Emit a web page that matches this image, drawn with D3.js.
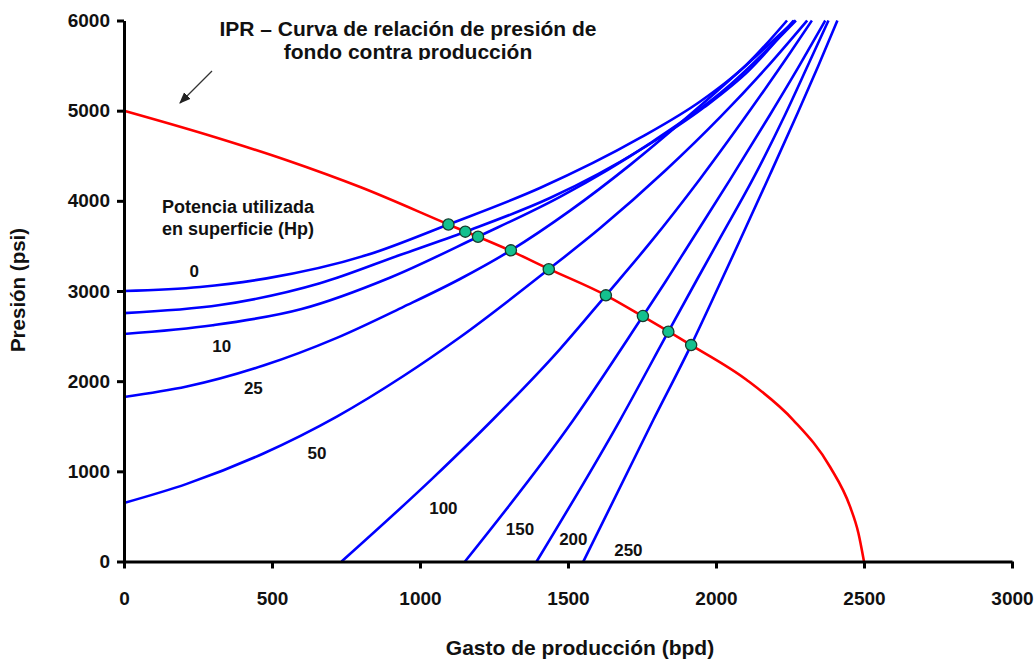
<!DOCTYPE html>
<html>
<head>
<meta charset="utf-8">
<script src="https://cdn.jsdelivr.net/npm/d3@7"></script>
<style>
  html, body { margin: 0; padding: 0; background: #fff; }
  svg text { font-family: "Liberation Sans", Arial, Helvetica, sans-serif; font-weight: bold; fill: #111; }
</style>
</head>
<body>
<svg id="chart" width="1036" height="660"></svg>
<script>
// ---------- data ----------
const xTicks = [0, 500, 1000, 1500, 2000, 2500, 3000];
const yTicks = [0, 1000, 2000, 3000, 4000, 5000, 6000];

// IPR curve (bpd, psi)
const iprCurve = [[0,5000],[275,4739],[550,4450],[800,4150],[1096,3738],[1307,3445],[1435,3245],
  [1628,2952],[1753,2718],[1916,2400],[2104,2013],[2261,1569],[2385,1051],[2453,608],[2481,316],[2500,0]];

// Curves of surface power (Hp)
const hp0   = [[0,3000],[257,3045],[482,3140],[820,3398],[1096,3738],[1405,4142],[1743,4697],[1950,5110],[2100,5500],[2240,6000]];
const hp5   = [[0,2755],[324,2844],[662,3085],[932,3399],[1153,3658],[1439,4031],[1760,4597],[1960,5037],[2110,5442],[2262,6000]];
const hp10  = [[0,2523],[300,2620],[600,2800],[900,3150],[1196,3602],[1473,4045],[1777,4638],[2047,5286],[2270,6000]];
const hp25  = [[0,1825],[212,1940],[471,2173],[719,2480],[944,2824],[1135,3133],[1307,3451],[1507,3891],[1709,4396],[1912,4954],[2097,5490],[2267,6000]];
const hp50  = [[0,649],[212,861],[471,1198],[719,1607],[944,2057],[1135,2487],[1435,3241],[1608,3695],[1828,4333],[2014,4928],[2166,5460],[2308,6000]];
const hp100 = [[735,0],[1045,930],[1248,1580],[1473,2356],[1628,2952],[1777,3533],[1946,4243],[2115,5004],[2250,5639],[2324,6000]];
const hp150 = [[1152,0],[1518,1569],[1753,2722],[1833,3122],[1912,3533],[2047,4232],[2182,4952],[2284,5513],[2369,6000]];
const hp200 = [[1394,0],[1676,1569],[1839,2549],[1935,3122],[2014,3588],[2132,4287],[2233,4952],[2311,5506],[2380,6000]];
const hp250 = [[1552,0],[1788,1569],[1916,2400],[2008,3044],[2081,3562],[2182,4289],[2277,4983],[2345,5493],[2410,6000]];
const hpCurves = [hp0, hp5, hp10, hp25, hp50, hp100, hp150, hp200, hp250];

// Operating points (intersections)
const operPoints = [[1096,3738],[1153,3658],[1196,3602],[1307,3451],[1435,3241],[1628,2952],[1753,2722],[1839,2549],[1916,2400]];

// Curve labels (text, bpd, psi)
const hpLabels = ["0","10","25","50","100","150","200","250"];
const hpLabelX = [237, 330, 437, 652, 1079, 1338, 1518, 1704];
const hpLabelY = [3225, 2393, 1921, 1207, 597, 357, 246, 128];

const titleLines = ["IPR \u2013 Curva de relación de presión de", "fondo contra producción"];
const legendLines = ["Potencia utilizada", "en superficie (Hp)"];
const xTitle = "Gasto de producción (bpd)";
const yTitle = "Presión (psi)";

// ---------- chart ----------
const svg = d3.select("#chart");
const x = d3.scaleLinear().domain([0, 3000]).range([124, 1012]);
const y = d3.scaleLinear().domain([0, 6000]).range([561.5, 20.5]);

const line = d3.line().x(d => x(d[0])).y(d => y(d[1])).curve(d3.curveMonotoneX);

// blue curves
svg.append("g").selectAll("path").data(hpCurves).join("path")
  .attr("d", line).attr("fill", "none").attr("stroke", "#0000ff").attr("stroke-width", 2.6);

// IPR
svg.append("path").datum(iprCurve).attr("d", line)
  .attr("fill", "none").attr("stroke", "#ff0000").attr("stroke-width", 2.6);

// points
svg.append("g").selectAll("circle").data(operPoints).join("circle")
  .attr("cx", d => x(d[0])).attr("cy", d => y(d[1])).attr("r", 5.6)
  .attr("fill", "#14c08e").attr("stroke", "#163a2c").attr("stroke-width", 1.3);

// axes
const xAxis = svg.append("g").attr("transform", `translate(0,${y(0)})`)
  .call(d3.axisBottom(x).tickValues(xTicks).tickSize(7).tickSizeOuter(0).tickPadding(23).tickFormat(d3.format("d")));
const yAxis = svg.append("g").attr("transform", `translate(${x(0)},0)`)
  .call(d3.axisLeft(y).tickValues(yTicks).tickSize(7).tickSizeOuter(0).tickPadding(7).tickFormat(d3.format("d")));
[xAxis, yAxis].forEach(a => {
  a.select(".domain").attr("stroke", "#000").attr("stroke-width", 3);
  a.selectAll(".tick line").attr("stroke", "#000").attr("stroke-width", 3);
  a.selectAll(".tick text").attr("font-size", 19).attr("fill", "#111")
    .style("font-family", '"Liberation Sans", Arial, sans-serif').style("font-weight", "bold");
});

// curve labels
svg.append("g").selectAll("text").data(hpLabels).join("text")
  .attr("x", (d, i) => x(hpLabelX[i])).attr("y", (d, i) => y(hpLabelY[i]))
  .attr("dy", "0.36em").attr("text-anchor", "middle").attr("font-size", 17).text(d => d);

// legend note
svg.append("g").selectAll("text").data(legendLines).join("text")
  .attr("x", 162).attr("y", (d, i) => 213 + i * 22).attr("font-size", 18).text(d => d);

// title (second line clipped at bottom as in original)
svg.append("clipPath").attr("id", "titleClip").append("rect")
  .attr("x", 0).attr("y", 0).attr("width", 1036).attr("height", 60);
svg.append("g").attr("clip-path", "url(#titleClip)").selectAll("text").data(titleLines).join("text")
  .attr("x", 408).attr("y", (d, i) => 36 + i * 23).attr("text-anchor", "middle")
  .attr("font-size", 21).text(d => d);

// arrow
svg.append("defs").append("marker").attr("id", "arr").attr("viewBox", "0 0 10 10")
  .attr("refX", 9).attr("refY", 5).attr("markerWidth", 9).attr("markerHeight", 9)
  .attr("orient", "auto").append("path").attr("d", "M0,1 L10,5 L0,9 Z").attr("fill", "#222");
svg.append("line").attr("x1", 212).attr("y1", 71).attr("x2", 180).attr("y2", 103)
  .attr("stroke", "#333").attr("stroke-width", 1.3).attr("marker-end", "url(#arr)");

// axis titles
svg.append("text").attr("x", 580).attr("y", 655).attr("text-anchor", "middle")
  .attr("font-size", 21).text(xTitle);
svg.append("text").attr("transform", "translate(25,290) rotate(-90)").attr("text-anchor", "middle")
  .attr("font-size", 20.5).text(yTitle);
</script>
</body>
</html>
